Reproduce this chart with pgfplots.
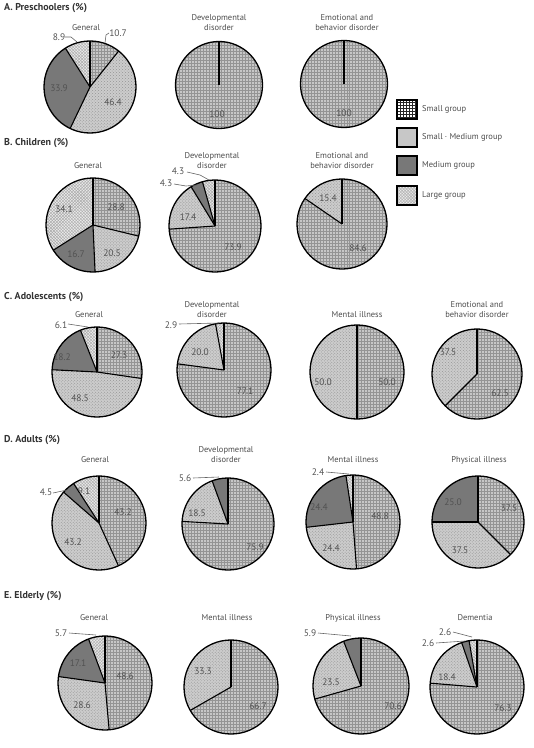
\documentclass[border=0pt]{standalone}
\usepackage{pgfplots}
\pgfplotsset{compat=1.18}
\usetikzlibrary{patterns}
\usepackage{fontspec}
\setmainfont{PT Sans}

% fills of the four group sizes
\tikzset{
  sg/.style={fill=black!22, postaction={pattern=grid, pattern color=black!42}},
  sm/.style={fill=black!20, postaction={pattern=crosshatch dots, pattern color=black!42}},
  md/.style={fill=black!53},
  lg/.style={fill=black!8, postaction={pattern=crosshatch, pattern color=black!33}},
  legsg/.style={fill=white, postaction={pattern=grid, pattern color=black!85}},
  edge/.style={draw=black, line width=1.1bp},
  rim/.style={draw=black, line width=1.3bp},
  lead/.style={draw=black!60, line width=0.6bp},
  ttl/.style={font=\fontsize{10}{12}\selectfont\bfseries, text=black!80, anchor=west, inner sep=0pt},
  cat/.style={font=\fontsize{8.5}{10}\selectfont, text=black!70, align=center, inner sep=0pt},
  val/.style={font=\fontsize{9.5}{11}\selectfont, text=black!68, inner sep=0pt},
  leg/.style={font=\fontsize{8.5}{10}\selectfont, text=black!70, anchor=west, inner sep=0pt},
  box/.style={draw=black, line width=1.5bp},
}

% \drawpie{cx}{cy}{r}{value/style, ...}: slices run clockwise from 12 o'clock
\newcommand\drawpie[4]{%
  \gdef\pieacc{90}%
  \foreach \pv/\ps in {#4}{%
    \pgfmathsetmacro\pb{\pieacc-3.6*\pv}%
    \edef\temp{\noexpand\fill[\ps] (axis cs:#1,#2) -- ++(\pieacc:#3bp)
      arc[start angle=\pieacc, end angle=\pb, radius=#3bp] -- cycle;}%
    \temp
    \xdef\pieacc{\pb}%
  }%
  \gdef\pieacc{90}%
  \foreach \pv/\ps in {#4}{%
    \edef\temp{\noexpand\draw[edge] (axis cs:#1,#2) -- ++(\pieacc:#3bp);}%
    \temp
    \pgfmathsetmacro\pb{\pieacc-3.6*\pv}%
    \xdef\pieacc{\pb}%
  }%
  \edef\temp{\noexpand\draw[rim] (axis cs:#1,#2) circle[radius=#3bp];}\temp
}

\begin{document}
\begin{tikzpicture}
\begin{axis}[x=1bp, y=1bp, y dir=reverse,
  xmin=0, xmax=534, ymin=0, ymax=748,
  hide axis, clip=false]
\path (axis cs:0,0) rectangle (axis cs:534,748);

% ---------- A. Preschoolers ----------
\node[ttl] at (axis cs:4,8) {A. Preschoolers (\%)};
\node[cat] at (axis cs:86,28) {General};
\node[cat] at (axis cs:219,23) {Developmental\\disorder};
\node[cat] at (axis cs:347,23) {Emotional and\\behavior disorder};
\drawpie{90}{87}{46}{10.7/sg, 46.4/sm, 33.9/md, 8.9/lg}
\drawpie{219}{85}{43.5}{100/sg}
\drawpie{344}{84}{43.5}{100/sg}
\node[val] at (axis cs:118,33) {10.7};
\node[val] at (axis cs:113,102) {46.4};
\node[val] at (axis cs:59,88) {33.9};
\node[val] at (axis cs:59,37) {8.9};
\draw[lead] (axis cs:65,37) -- (axis cs:71,37) -- (axis cs:77,42);
\draw[lead] (axis cs:109,33) -- (axis cs:106,35) -- (axis cs:105,43);
\node[val] at (axis cs:217,114) {100};
\node[val] at (axis cs:344,113) {100};

% legend
\fill[legsg] (axis cs:397,100) rectangle (axis cs:417,119);
\draw[box] (axis cs:397,100) rectangle (axis cs:417,119);
\fill[black!22] (axis cs:397,128) rectangle (axis cs:417,147);
\draw[box] (axis cs:397,128) rectangle (axis cs:417,147);
\fill[md] (axis cs:397,156) rectangle (axis cs:417,175);
\draw[box] (axis cs:397,156) rectangle (axis cs:417,175);
\fill[lg] (axis cs:397,186) rectangle (axis cs:417,205);
\draw[box] (axis cs:397,186) rectangle (axis cs:417,205);
\node[leg] at (axis cs:422,109) {Small group};
\node[leg] at (axis cs:422,137) {Small · Medium group};
\node[leg] at (axis cs:422,165) {Medium group};
\node[leg] at (axis cs:422,195) {Large group};

% ---------- B. Children ----------
\node[ttl] at (axis cs:4,143) {B. Children (\%)};
\node[cat] at (axis cs:88,166) {General};
\node[cat] at (axis cs:212,161) {Developmental\\disorder};
\node[cat] at (axis cs:342,161) {Emotional and\\behavior disorder};
\drawpie{93}{225}{47}{28.8/sg, 20.5/sm, 16.7/md, 34.1/lg}
\drawpie{215}{226}{46}{73.9/sg, 17.4/sm, 4.3/md, 4.3/lg}
\drawpie{342}{224}{45}{84.6/sg, 15.4/sm}
\node[val] at (axis cs:116,207) {28.8};
\node[val] at (axis cs:112,253) {20.5};
\node[val] at (axis cs:76,254) {16.7};
\node[val] at (axis cs:64,209) {34.1};
\node[val] at (axis cs:233,247) {73.9};
\node[val] at (axis cs:188,217) {17.4};
\node[val] at (axis cs:166,183) {4.3};
\node[val] at (axis cs:178,171) {4.3};
\draw[lead] (axis cs:174,184) -- (axis cs:186,186) -- (axis cs:197,185);
\draw[lead] (axis cs:187,172) -- (axis cs:200,175) -- (axis cs:209,180);
\node[val] at (axis cs:358,248) {84.6};
\node[val] at (axis cs:328,198) {15.4};

% ---------- C. Adolescents ----------
\node[ttl] at (axis cs:4,297) {C. Adolescents (\%)};
\node[cat] at (axis cs:89,315) {General};
\node[cat] at (axis cs:212,310) {Developmental\\disorder};
\node[cat] at (axis cs:357,315) {Mental illness};
\node[cat] at (axis cs:477,310) {Emotional and\\behavior disorder};
\drawpie{97}{372}{45}{27.3/sg, 48.5/sm, 18.2/md, 6.1/lg}
\drawpie{224}{370}{47}{77.1/sg, 20.0/sm, 2.9/lg}
\drawpie{357}{372}{47}{50.0/sg, 50.0/sm}
\drawpie{477}{374}{45}{62.5/sg, 37.5/sm}
\node[val] at (axis cs:119,355) {27.3};
\node[val] at (axis cs:80,398) {48.5};
\node[val] at (axis cs:62,357) {18.2};
\node[val] at (axis cs:61,325) {6.1};
\draw[lead] (axis cs:68,324) -- (axis cs:88,327);
\node[val] at (axis cs:245,391) {77.1};
\node[val] at (axis cs:200,352) {20.0};
\node[val] at (axis cs:171,325) {2.9};
\draw[lead] (axis cs:179,324) -- (axis cs:219,323);
\node[val] at (axis cs:387,382) {50.0};
\node[val] at (axis cs:323,382) {50.0};
\node[val] at (axis cs:500,393) {62.5};
\node[val] at (axis cs:448,352) {37.5};

% ---------- D. Adults ----------
\node[ttl] at (axis cs:4,440) {D. Adults (\%)};
\node[cat] at (axis cs:95,460) {General};
\node[cat] at (axis cs:226,455) {Developmental\\disorder};
\node[cat] at (axis cs:353,460) {Mental illness};
\node[cat] at (axis cs:479,460) {Physical illness};
\drawpie{99}{523}{47}{43.2/sg, 43.2/sm, 4.5/md, 9.1/lg}
\drawpie{228}{524}{46}{75.9/sg, 18.5/sm, 5.6/md}
\drawpie{353}{522}{47}{48.8/sg, 24.4/sm, 24.4/md, 2.4/lg}
\drawpie{478}{522}{46}{37.5/sg, 37.5/sm, 25.0/md}
\node[val] at (axis cs:123,512) {43.2};
\node[val] at (axis cs:73,542) {43.2};
\node[val] at (axis cs:46,492) {4.5};
\node[val] at (axis cs:84,491) {9.1};
\draw[lead] (axis cs:53,493) -- (axis cs:67,490);
\node[val] at (axis cs:255,547) {75.9};
\node[val] at (axis cs:197,513) {18.5};
\node[val] at (axis cs:185,478) {5.6};
\draw[lead] (axis cs:193,478) -- (axis cs:219,477);
\node[val] at (axis cs:380,516) {48.8};
\node[val] at (axis cs:331,548) {24.4};
\node[val] at (axis cs:319,507) {24.4};
\node[val] at (axis cs:318,472) {2.4};
\draw[lead] (axis cs:326,472) -- (axis cs:349,474);
\node[val] at (axis cs:509,508) {37.5};
\node[val] at (axis cs:460,550) {37.5};
\node[val] at (axis cs:453,502) {25.0};

% ---------- E. Elderly ----------
\node[ttl] at (axis cs:4,596) {E. Elderly (\%)};
\node[cat] at (axis cs:94,618) {General};
\node[cat] at (axis cs:227,618) {Mental illness};
\node[cat] at (axis cs:353,618) {Physical illness};
\node[cat] at (axis cs:475,618) {Dementia};
\drawpie{105}{683}{47}{48.6/sg, 28.6/sm, 17.1/md, 5.7/lg}
\drawpie{231}{687}{47}{66.7/sg, 33.3/sm}
\drawpie{361}{686}{48}{70.6/sg, 23.5/sm, 5.9/md}
\drawpie{477}{687}{47}{76.3/sg, 18.4/sm, 2.6/md, 2.6/lg}
\node[val] at (axis cs:125,676) {48.6};
\node[val] at (axis cs:82,705) {28.6};
\node[val] at (axis cs:78,663) {17.1};
\node[val] at (axis cs:61,633) {5.7};
\draw[lead] (axis cs:69,633) -- (axis cs:96,635);
\node[val] at (axis cs:258,706) {66.7};
\node[val] at (axis cs:203,671) {33.3};
\node[val] at (axis cs:393,706) {70.6};
\node[val] at (axis cs:331,682) {23.5};
\node[val] at (axis cs:310,633) {5.9};
\draw[lead] (axis cs:318,633) -- (axis cs:351,636);
\node[val] at (axis cs:503,708) {76.3};
\node[val] at (axis cs:447,677) {18.4};
\node[val] at (axis cs:428,643) {2.6};
\node[val] at (axis cs:445,632) {2.6};
\draw[lead] (axis cs:436,643) -- (axis cs:465,641);
\draw[lead] (axis cs:453,632) -- (axis cs:472,637);
\end{axis}
\end{tikzpicture}
\end{document}
